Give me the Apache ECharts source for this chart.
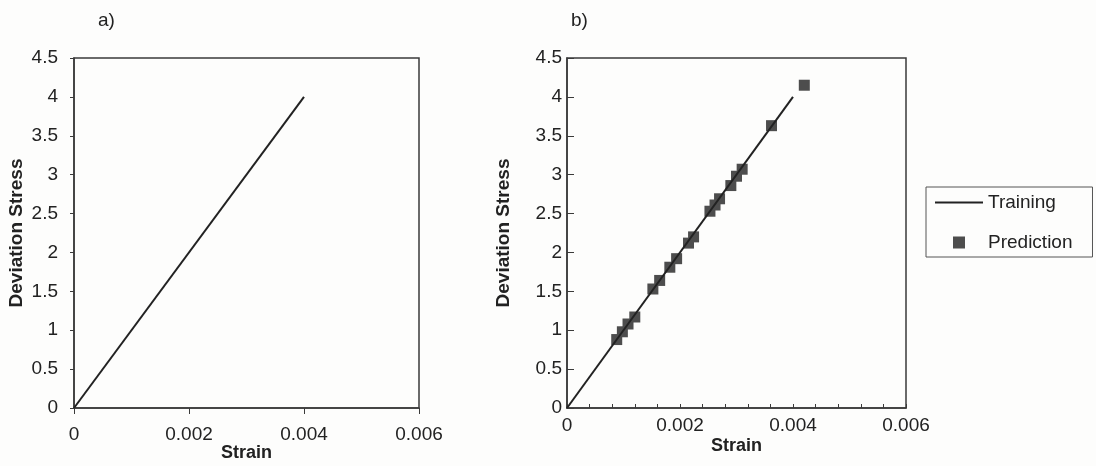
<!DOCTYPE html>
<html>
<head>
<meta charset="utf-8">
<script src="https://cdn.jsdelivr.net/npm/echarts@6/dist/echarts.min.js"></script>
<style>
html,body{margin:0;padding:0;background:#fdfdfc;}
#c{width:1096px;height:466px;}
</style>
</head>
<body>
<div id="c"></div>
<script>
const xTicks = [0, 0.002, 0.004, 0.006];
const yTicks = [0, 0.5, 1, 1.5, 2, 2.5, 3, 3.5, 4, 4.5];
const trainingStrain = [0, 0.004];
const trainingStress = [0, 4.0];
const predictionStrain = [0.00088, 0.00098, 0.00108, 0.0012, 0.00152, 0.00164, 0.00182, 0.00194, 0.00215, 0.00224, 0.00253, 0.00262, 0.0027, 0.0029, 0.003, 0.0031, 0.00362, 0.0042];
const predictionStress = [0.88, 0.98, 1.08, 1.17, 1.53, 1.64, 1.81, 1.92, 2.12, 2.2, 2.53, 2.61, 2.69, 2.86, 2.98, 3.07, 3.63, 4.15];
const panelLabels = ['a)', 'b)'];

const font = '"Liberation Sans", Arial, sans-serif';
const ink = '#222';
const training = trainingStrain.map((x, i) => [x, trainingStress[i]]);
const prediction = predictionStrain.map((x, i) => [x, predictionStress[i]]);

function xAxis(gi, inside) {
  return {
    type: 'value', gridIndex: gi, min: xTicks[0], max: xTicks[xTicks.length - 1],
    interval: xTicks[1] - xTicks[0],
    name: 'Strain', nameLocation: 'middle', nameGap: inside ? 29 : 36, nameMoveOverlap: false,
    nameTextStyle: { fontFamily: font, fontSize: 18, fontWeight: 'bold', color: ink },
    axisLine: { show: true, onZero: false, lineStyle: { color: '#3a3a3a', width: 1.5 } },
    axisTick: { show: true, inside: inside, length: inside ? 4 : 6, lineStyle: { color: '#3a3a3a' } },
    minorTick: { show: inside, splitNumber: 5, length: 4, lineStyle: { color: '#3a3a3a' } },
    axisLabel: { fontFamily: font, fontSize: 19, color: ink, margin: inside ? 8 : 17 },
    splitLine: { show: false }
  };
}
function yAxis(gi, inside) {
  return {
    type: 'value', gridIndex: gi, min: yTicks[0], max: yTicks[yTicks.length - 1],
    interval: yTicks[1] - yTicks[0],
    name: 'Deviation Stress', nameLocation: 'middle', nameGap: inside ? 54 : 48, nameMoveOverlap: false,
    nameTextStyle: { fontFamily: font, fontSize: 19, fontWeight: 'bold', color: ink },
    axisLine: { show: true, onZero: false, lineStyle: { color: '#3a3a3a', width: 1.5 } },
    axisTick: { show: true, inside: inside, length: inside ? 7 : 4, lineStyle: { color: '#3a3a3a' } },
    axisLabel: { fontFamily: font, fontSize: 19, color: ink, margin: inside ? 5 : 16 },
    splitLine: { show: false }
  };
}

const chart = echarts.init(document.getElementById('c'));
chart.setOption({
  backgroundColor: '#fdfdfc',
  animation: false,
  title: [
    { text: panelLabels[0], left: 93, top: 6, textStyle: { fontFamily: font, fontSize: 19, fontWeight: 'normal', color: ink } },
    { text: panelLabels[1], left: 566, top: 6, textStyle: { fontFamily: font, fontSize: 19, fontWeight: 'normal', color: ink } }
  ],
  grid: [
    { left: 74, top: 58, width: 345, height: 350, containLabel: false, outerBoundsMode: 'none',
      show: true, borderColor: '#3a3a3a', borderWidth: 1.5, backgroundColor: 'transparent' },
    { left: 567, top: 58, width: 339, height: 350, containLabel: false, outerBoundsMode: 'none',
      show: true, borderColor: '#3a3a3a', borderWidth: 1.5, backgroundColor: 'transparent' }
  ],
  xAxis: [xAxis(0, false), xAxis(1, true)],
  yAxis: [yAxis(0, false), yAxis(1, true)],
  legend: {
    orient: 'vertical', left: 926, top: 187,
    data: [
      { name: 'Training', itemStyle: { color: 'rgba(0,0,0,0)', borderColor: 'rgba(0,0,0,0)', borderWidth: 0 } },
      { name: 'Prediction', icon: 'path://M0,0h10v10h-10z' }
    ],
    symbolKeepAspect: true,
    borderColor: '#555', borderWidth: 1,
    padding: [6, 20, 5, 8], itemGap: 21,
    itemWidth: 48, itemHeight: 12,
    textStyle: { fontFamily: font, fontSize: 19, color: ink }
  },
  series: [
    { name: 'Training', type: 'line', xAxisIndex: 0, yAxisIndex: 0, data: training,
      symbol: 'none', lineStyle: { color: '#222', width: 2 }, itemStyle: { color: '#222' } },
    { name: 'Training', type: 'line', xAxisIndex: 1, yAxisIndex: 1, data: training,
      symbol: 'none', lineStyle: { color: '#222', width: 2 }, itemStyle: { color: '#222' } },
    { name: 'Prediction', type: 'scatter', xAxisIndex: 1, yAxisIndex: 1, data: prediction,
      symbol: 'rect', symbolSize: 11, itemStyle: { color: '#4d4d4d', opacity: 1 } }
  ]
});
</script>
</body>
</html>
